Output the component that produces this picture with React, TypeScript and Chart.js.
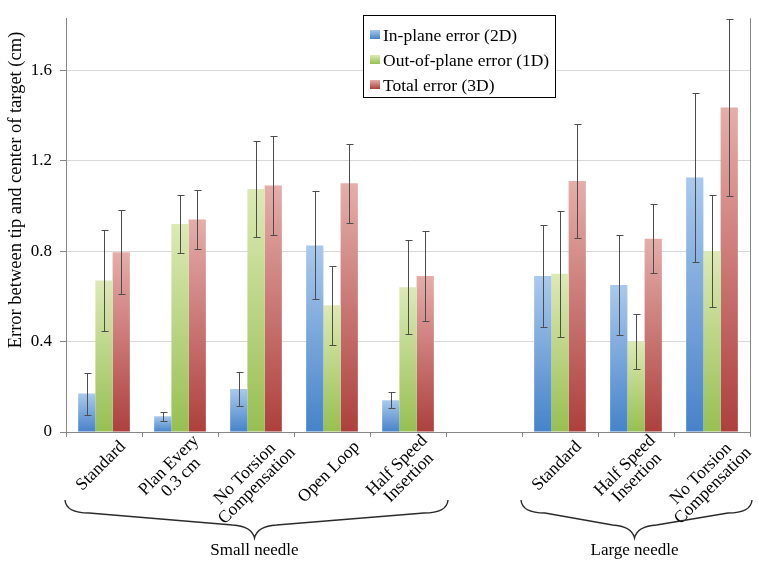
import { useEffect, useRef } from "react";
import { Chart, registerables } from "chart.js";

Chart.register(...registerables);

const FONT = '"Liberation Serif", "Times New Roman", serif';

const categoryLines: string[][] = [
  ["Standard"],
  ["Plan Every", "0.3 cm"],
  ["No Torsion", "Compensation"],
  ["Open Loop"],
  ["Half Speed", "Insertion"],
  [""],
  ["Standard"],
  ["Half Speed", "Insertion"],
  ["No Torsion", "Compensation"],
];

const seriesNames = ["In-plane error (2D)", "Out-of-plane error (1D)", "Total error (3D)"];

const inPlane = [0.17, 0.07, 0.19, 0.825, 0.14, null, 0.69, 0.65, 1.125];
const inPlaneErr = [0.093, 0.02, 0.077, 0.239, 0.035, null, 0.224, 0.222, 0.375];
const outPlane = [0.67, 0.92, 1.075, 0.56, 0.64, null, 0.7, 0.4, 0.8];
const outPlaneErr = [0.225, 0.13, 0.213, 0.176, 0.207, null, 0.278, 0.12, 0.246];
const total = [0.795, 0.94, 1.09, 1.1, 0.69, null, 1.11, 0.855, 1.435];
const totalErr = [0.186, 0.13, 0.217, 0.175, 0.197, null, 0.25, 0.153, 0.39];

const groupLabels = ["Small needle", "Large needle"];
const groupRanges = [
  [0, 4],
  [6, 8],
];

const yMax = 1.83;
const yStep = 0.4;

const gradTop = ["#abc9ec", "#dde9b6", "#e4aeab"];
const gradBottom = ["#4683c9", "#97bf52", "#ad403d"];

export default function App() {
  const ref = useRef<HTMLCanvasElement>(null);

  useEffect(() => {
    const canvas = ref.current!;
    const errs = [inPlaneErr, outPlaneErr, totalErr];

    const makeBg = (i: number) => (ctx: any) => {
      const chart = ctx.chart;
      const ys = chart.scales && chart.scales.y;
      const v = ctx.raw;
      if (!ys || v == null || ctx.type !== "data") return gradBottom[i];
      const top = ys.getPixelForValue(v);
      const bottom = ys.getPixelForValue(0);
      if (!isFinite(top) || !isFinite(bottom) || top === bottom) return gradBottom[i];
      const g = chart.ctx.createLinearGradient(0, top, 0, bottom);
      g.addColorStop(0, gradTop[i]);
      g.addColorStop(1, gradBottom[i]);
      return g;
    };

    const extras = {
      id: "extras",
      afterDatasetsDraw(chart: any) {
        const c = chart.ctx;
        const ys = chart.scales.y;
        c.save();
        c.strokeStyle = "#4d4d4d";
        c.lineWidth = 1;
        chart.data.datasets.forEach((ds: any, i: number) => {
          const meta = chart.getDatasetMeta(i);
          meta.data.forEach((el: any, j: number) => {
            const v = ds.data[j];
            const e = errs[i][j];
            if (v == null || e == null) return;
            const x = Math.round(el.x) + 0.5;
            const yT = Math.round(ys.getPixelForValue(v + e)) + 0.5;
            const yB = Math.round(ys.getPixelForValue(v - e)) + 0.5;
            c.beginPath();
            c.moveTo(x, yT);
            c.lineTo(x, yB);
            c.moveTo(x - 3, yT);
            c.lineTo(x + 4, yT);
            c.moveTo(x - 3, yB);
            c.lineTo(x + 4, yB);
            c.stroke();
          });
        });
        c.restore();
      },
      afterDraw(chart: any) {
        const c = chart.ctx;
        const area = chart.chartArea;
        const xs = chart.scales.x;
        c.save();
        // right border
        c.strokeStyle = "#868686";
        c.lineWidth = 1;
        c.beginPath();
        c.moveTo(Math.round(area.right) + 0.5, area.top);
        c.lineTo(Math.round(area.right) + 0.5, area.bottom);
        c.stroke();

        // legend
        c.fillStyle = "#fff";
        c.fillRect(363.5, 15.5, 192, 82);
        c.strokeStyle = "#000";
        c.strokeRect(363.5, 15.5, 192, 82);
        const rows = [35, 60, 85];
        seriesNames.forEach((name, i) => {
          const y = rows[i];
          const g = c.createLinearGradient(0, y - 5, 0, y + 4);
          g.addColorStop(0, gradTop[i]);
          g.addColorStop(1, gradBottom[i]);
          c.fillStyle = g;
          c.fillRect(370, y - 5, 10, 9);
          c.fillStyle = "#000";
          c.font = `17.5px ${FONT}`;
          c.textAlign = "left";
          c.textBaseline = "middle";
          c.fillText(name, 383, y + 1);
        });

        // y title
        c.save();
        c.translate(16, 190);
        c.rotate(-Math.PI / 2);
        c.font = `18.5px ${FONT}`;
        c.textAlign = "center";
        c.textBaseline = "middle";
        c.fillStyle = "#000";
        c.fillText("Error between tip and center of target (cm)", 0, 0);
        c.restore();

        // x labels rotated, centered lines
        c.font = `17.5px ${FONT}`;
        c.fillStyle = "#000";
        const lineH = 17;
        const cs = Math.SQRT1_2;
        categoryLines.forEach((lines, i) => {
          if (!lines.join("")) return;
          const cx = xs.getPixelForValue(i);
          const W = Math.max(...lines.map((l) => c.measureText(l).width));
          const H = lines.length * lineH;
          const bboxW = (W + H) * cs;
          const left = cx - 3 - bboxW / 2;
          const extra = lines.length - 1;
          const tx = left + W * cs - extra * 2;
          const ty = 438 - extra * 6;
          c.save();
          c.translate(tx, ty);
          c.rotate(-Math.PI / 4);
          c.textAlign = "center";
          c.textBaseline = "middle";
          lines.forEach((l, j) => {
            c.fillText(l, -W / 2, lineH * (j + 0.5));
          });
          c.restore();
        });

        // braces
        const half = (xs.getPixelForValue(1) - xs.getPixelForValue(0)) / 2;
        groupRanges.forEach((r, gi) => {
          const x0 = xs.getPixelForValue(r[0]) - half - 1;
          const x1 = Math.min(xs.getPixelForValue(r[1]) + half + 2, 757);
          const mid = (x0 + x1) / 2 - 2;
          const top = 500;
          const arm0 = 513;
          const arm1 = 525;
          const tip = 538;
          c.strokeStyle = "#2b2b2b";
          c.lineWidth = 1.4;
          c.beginPath();
          c.moveTo(x0, top);
          c.quadraticCurveTo(x0 + 1, arm0, x0 + 24, arm0);
          c.lineTo(mid - 22, arm1);
          c.quadraticCurveTo(mid - 3, arm1 + 1, mid, tip);
          c.quadraticCurveTo(mid + 3, arm1 + 1, mid + 22, arm1);
          c.lineTo(x1 - 24, arm0);
          c.quadraticCurveTo(x1 - 1, arm0, x1, top);
          c.stroke();
          c.font = `17px ${FONT}`;
          c.fillStyle = "#000";
          c.textAlign = "center";
          c.textBaseline = "middle";
          c.fillText(groupLabels[gi], mid, 551);
        });
        c.restore();
      },
    };

    const chart = new Chart(canvas, {
      type: "bar",
      data: {
        labels: categoryLines.map((l) => l.join(" ")),
        datasets: [inPlane, outPlane, total].map((d, i) => ({
          label: seriesNames[i],
          data: d as any,
          backgroundColor: makeBg(i),
          borderWidth: 0,
          categoryPercentage: 0.68,
          barPercentage: 1.0,
        })),
      },
      options: {
        responsive: false,
        animation: false,
        devicePixelRatio: 1,
        layout: { padding: { top: 7, right: 8, left: 0, bottom: 0 } },
        plugins: {
          legend: { display: false },
          tooltip: { enabled: false },
        },
        scales: {
          x: {
            grid: {
              offset: true,
              drawOnChartArea: false,
              drawTicks: true,
              tickLength: 5,
              color: "#868686",
            },
            border: { display: true, color: "#868686" },
            ticks: { display: false },
            afterFit: (s: any) => {
              s.height = 135;
            },
          },
          y: {
            min: 0,
            max: yMax,
            ticks: {
              stepSize: yStep,
              color: "#000",
              padding: 8,
              font: { family: FONT, size: 17 },
              callback: (v: any) => (Number(v) === 0 ? "0" : Number(v).toFixed(1)),
            },
            grid: {
              color: (ctx: any) => (ctx.tick && ctx.tick.value === 0 ? "#868686" : "#d9d9d9"),
              tickColor: "#868686",
              tickLength: 6,
            },
            border: { display: true, color: "#868686" },
            afterBuildTicks: (s: any) => {
              s.ticks = s.ticks.filter(
                (t: any) => Math.abs(t.value / yStep - Math.round(t.value / yStep)) < 1e-6
              );
            },
            afterFit: (s: any) => {
              s.width = 66;
            },
          },
        },
      },
      plugins: [extras],
    });
    return () => chart.destroy();
  }, []);

  return (
    <div style={{ position: "absolute", left: 0, top: 0, width: 758, height: 567, background: "#fff" }}>
      <canvas ref={ref} width={758} height={567} style={{ display: "block" }} />
    </div>
  );
}
